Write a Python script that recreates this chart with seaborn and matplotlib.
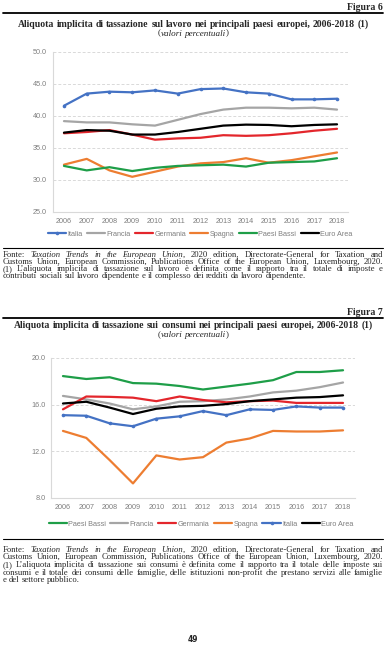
import matplotlib
matplotlib.use('Agg')
import matplotlib.pyplot as plt
from matplotlib.lines import Line2D
import pandas as pd
import seaborn as sns

# dati
anni = list(range(2006, 2019))

# Figura 6 - lavoro
lav_paesi = ['Italia', 'Francia', 'Germania', 'Spagna', 'Paesi Bassi', 'Euro Area']
lav_italia = [41.6, 43.5, 43.8, 43.7, 44.0, 43.5, 44.2, 44.3, 43.7, 43.5, 42.6, 42.6, 42.7]
lav_francia = [39.2, 39.0, 39.0, 38.7, 38.5, 39.4, 40.3, 41.0, 41.3, 41.3, 41.2, 41.3, 41.0]
lav_germania = [37.3, 37.5, 37.8, 37.1, 36.3, 36.5, 36.6, 37.0, 36.9, 37.0, 37.3, 37.7, 38.0]
lav_spagna = [32.4, 33.3, 31.5, 30.5, 31.3, 32.1, 32.6, 32.8, 33.4, 32.7, 33.1, 33.7, 34.3]
lav_paesibassi = [32.2, 31.5, 32.0, 31.4, 31.9, 32.2, 32.3, 32.4, 32.1, 32.7, 32.8, 32.9, 33.4]
lav_euro = [37.4, 37.8, 37.7, 37.1, 37.1, 37.5, 38.0, 38.5, 38.65, 38.6, 38.4, 38.6, 38.7]

# Figura 7 - consumi
con_paesi = ['Paesi Bassi', 'Francia', 'Germania', 'Spagna', 'Italia', 'Euro Area']
con_paesibassi = [18.45, 18.2, 18.35, 17.85, 17.8, 17.6, 17.3, 17.55, 17.8, 18.1, 18.8, 18.8, 18.95]
con_francia = [16.75, 16.45, 16.1, 15.6, 15.85, 16.25, 16.3, 16.45, 16.7, 17.05, 17.2, 17.5, 17.9]
con_germania = [15.6, 16.7, 16.67, 16.6, 16.3, 16.7, 16.4, 16.2, 16.3, 16.35, 16.15, 16.15, 16.15]
con_spagna = [13.75, 13.15, 11.25, 9.25, 11.65, 11.3, 11.5, 12.75, 13.1, 13.75, 13.7, 13.7, 13.8]
con_italia = [15.1, 15.05, 14.4, 14.15, 14.8, 15.0, 15.45, 15.1, 15.6, 15.55, 15.85, 15.75, 15.75]
con_euro = [16.1, 16.25, 15.75, 15.2, 15.65, 15.85, 15.9, 16.05, 16.3, 16.45, 16.6, 16.65, 16.8]

colori = {'Italia': '#4472C4', 'Francia': '#A5A5A5', 'Germania': '#E3262C',
          'Spagna': '#ED7D31', 'Paesi Bassi': '#1E9E48', 'Euro Area': '#000000'}

df_lav = pd.DataFrame({'Italia': lav_italia, 'Francia': lav_francia, 'Germania': lav_germania,
                       'Spagna': lav_spagna, 'Paesi Bassi': lav_paesibassi, 'Euro Area': lav_euro}, index=anni)
df_con = pd.DataFrame({'Paesi Bassi': con_paesibassi, 'Francia': con_francia, 'Germania': con_germania,
                       'Spagna': con_spagna, 'Italia': con_italia, 'Euro Area': con_euro}, index=anni)

sns.set_style('white')
plt.rcParams['font.family'] = ['Liberation Sans', 'DejaVu Sans']

W, H = 386, 654
fig = plt.figure(figsize=(W / 100, H / 100), dpi=100)
renderer = fig.canvas.get_renderer()
SERIF = ['Liberation Serif', 'DejaVu Serif']


def fx(px):
    return px / W


def fy(py):
    return 1 - py / H


def parse_words(line):
    # parole con segmenti in corsivo racchiusi tra _ _
    words = []
    ital = False
    for w in line.split(' '):
        pieces = []
        cur = ''
        for ch in w:
            if ch == '_':
                if cur:
                    pieces.append((cur, ital))
                cur = ''
                ital = not ital
            else:
                cur += ch
        if cur:
            pieces.append((cur, ital))
        words.append(pieces)
    return words


def text_line(line, x0, x1, y, size, mode='justify', weight='normal'):
    words = parse_words(line)
    probe = fig.text(0, 0, 'x x', fontsize=size, family=SERIF, weight=weight)
    w2 = probe.get_window_extent(renderer).width
    probe.set_text('xx')
    space = w2 - probe.get_window_extent(renderer).width
    probe.remove()
    arts, widths = [], []
    for pieces in words:
        a = []
        tot = 0
        for seg, it in pieces:
            t = fig.text(0, 0, seg, fontsize=size, family=SERIF, weight=weight,
                         style='italic' if it else 'normal', va='center', ha='left')
            tw = t.get_window_extent(renderer).width
            a.append((t, tw))
            tot += tw
        arts.append(a)
        widths.append(tot)
    n = len(words)
    total = sum(widths)
    gap = (x1 - x0 - total) / (n - 1) if (mode == 'justify' and n > 1) else space
    if mode == 'center':
        x = (x0 + x1) / 2 - (total + gap * (n - 1)) / 2
    else:
        x = x0
    for a in arts:
        for t, tw in a:
            t.set_position((fx(x), fy(y)))
            x += tw
        x += gap


def rule(y, lw):
    fig.add_artist(Line2D([fx(3), fx(383)], [fy(y), fy(y)], color='black', lw=lw,
                          transform=fig.transFigure))


def grafico(rect, df, ordine, ylim, yticks, legend_y, legend_x):
    ax = fig.add_axes(rect)
    for paese in ordine:
        sns.lineplot(x=df.index, y=df[paese], ax=ax, color=colori[paese], linewidth=1.6,
                     marker='o' if paese == 'Italia' else None, markersize=2.6,
                     markeredgewidth=0, label=paese, legend=False)
    ax.set_xlim(2005.5, 2018.5)
    ax.set_ylim(*ylim)
    ax.set_xticks(anni)
    ax.set_xticklabels([str(a) for a in anni])
    ax.set_yticks(yticks)
    ax.set_yticklabels(['%.1f' % v for v in yticks])
    ax.set_xlabel('')
    ax.set_ylabel('')
    for v in yticks[1:]:
        ax.axhline(v, color='#D9D9D9', lw=0.7, ls=(0, (3, 2)), zorder=0)
    for s in ['top', 'right']:
        ax.spines[s].set_visible(False)
    for s in ['left', 'bottom']:
        ax.spines[s].set_color('#D9D9D9')
        ax.spines[s].set_linewidth(0.8)
    ax.tick_params(axis='both', length=0, labelsize=5.2, colors='#7F7F7F')
    ax.tick_params(axis='y', pad=4)
    ax.tick_params(axis='x', pad=4)
    h, l = ax.get_legend_handles_labels()
    fig.legend(h, l, loc='center', bbox_to_anchor=(fx(legend_x), fy(legend_y)), ncol=6,
               frameon=False, fontsize=5.2, labelcolor='#7F7F7F', handlelength=2.5,
               handletextpad=0.2, columnspacing=0.6, borderaxespad=0)
    return ax


TIT = 7.0
SUB = 6.6
NOTE = 6.2

# ---- Figura 6
fig.text(fx(383), fy(7.3), 'Figura 6', ha='right', va='center', fontsize=7, family=SERIF, weight='bold')
rule(13, 1.3)
text_line('Aliquota implicita di tassazione sul lavoro nei principali paesi europei, 2006-2018 (1)',
          3, 383, 24.2, TIT, mode='center', weight='bold')
text_line('(_valori percentuali_)', 3, 383, 33.6, SUB, mode='center')

grafico([fx(52.6), fy(212), fx(348.4 - 52.6), (212 - 52) / H], df_lav, lav_paesi,
        (25, 50), [25.0, 30.0, 35.0, 40.0, 45.0, 50.0], 234, 200)

rule(247.5, 0.8)
note1 = ['Fonte: _Taxation Trends in the European Union_, 2020 edition, Directorate-General for Taxation and',
         'Customs Union, European Commission, Publications Office of the European Union, Luxembourg, 2020.',
         '(1) L’aliquota implicita di tassazione sul lavoro è definita come il rapporto tra il totale di imposte e',
         'contributi sociali sul lavoro dipendente e il complesso dei redditi da lavoro dipendente.']
y_note1 = [254.7, 261.9, 269.1, 276.2]
for i, (riga, yy) in enumerate(zip(note1, y_note1)):
    text_line(riga, 3, 383, yy, NOTE, mode='left' if i == len(note1) - 1 else 'justify')

# ---- Figura 7
fig.text(fx(383), fy(312.3), 'Figura 7', ha='right', va='center', fontsize=7, family=SERIF, weight='bold')
rule(318, 1.3)
text_line('Aliquota implicita di tassazione sui consumi nei principali paesi europei, 2006-2018 (1)',
          3, 383, 325.6, TIT, mode='center', weight='bold')
text_line('(_valori percentuali_)', 3, 383, 335.0, SUB, mode='center')

grafico([fx(51.3), fy(498), fx(354.7 - 51.3), (498 - 358) / H], df_con, con_paesi,
        (8, 20), [8.0, 12.0, 16.0, 20.0], 524, 201)

rule(539, 0.8)
note2 = ['Fonte: _Taxation Trends in the European Union_, 2020 edition, Directorate-General for Taxation and',
         'Customs Union, European Commission, Publications Office of the European Union, Luxembourg, 2020.',
         '(1) L’aliquota implicita di tassazione sui consumi è definita come il rapporto tra il totale delle imposte sui',
         'consumi e il totale dei consumi delle famiglie, delle istituzioni non-profit che prestano servizi alle famiglie',
         'e del settore pubblico.']
y_note2 = [549.5, 557.3, 565.0, 572.7, 580.3]
for i, (riga, yy) in enumerate(zip(note2, y_note2)):
    text_line(riga, 3, 383, yy, NOTE, mode='left' if i == len(note2) - 1 else 'justify')

fig.text(fx(193), fy(640), '49', ha='center', va='center', fontsize=5.5, weight='bold',
         family=['DejaVu Sans'])

fig.savefig('out.png', dpi=100, facecolor='white')
